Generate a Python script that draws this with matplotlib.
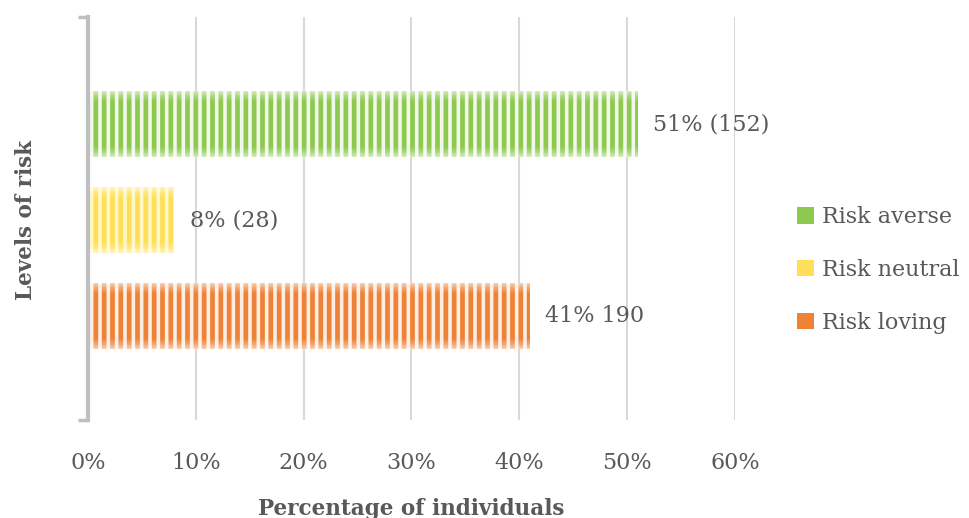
import matplotlib
matplotlib.use('Agg')
import numpy as np
import matplotlib.pyplot as plt
from matplotlib.patches import Patch

plt.rcParams['font.family'] = ['DejaVu Serif']
plt.rcParams['hatch.linewidth'] = 3.4
plt.rcParams['text.color'] = '#595959'

# data (bottom to top)
categories = ['Risk loving', 'Risk neutral', 'Risk averse']
percent = [41, 8, 51]
value_labels = ['41% 190', '8% (28)', '51% (152)']
stripe_colors = ['#EE8236', '#FFDF5A', '#8CC94E']
gap_colors = ['#FDEEE3', '#FFF8C4', '#F1F8EA']
x_ticks = [0, 10, 20, 30, 40, 50, 60]

fig = plt.figure(figsize=(9.7, 5.18), dpi=100)
ax = fig.add_axes([0.0907, 0.189, 0.667, 0.778])

bar_h = 0.68
ypos = list(range(len(categories)))
bars = ax.barh(ypos, percent, height=bar_h, zorder=3)
for bar, sc, gc in zip(bars, stripe_colors, gap_colors):
    bar.set_facecolor(gc)
    bar.set_edgecolor(sc)
    bar.set_linewidth(0)
    bar.set_hatch('||')

# soft fade along the top and bottom edges of each bar
t = np.linspace(0, 1, 60)
fade = np.clip(1 - np.minimum(t, 1 - t) / 0.18, 0, 1) ** 1.5 * 0.6
glow = np.ones((60, 1, 4))
glow[:, 0, 3] = fade
for y, v in zip(ypos, percent):
    ax.imshow(glow, extent=[0, v, y - bar_h / 2, y + bar_h / 2],
              aspect='auto', interpolation='bilinear', zorder=3.5)

for y, v, lab in zip(ypos, percent, value_labels):
    ax.annotate(lab, (v, y), xytext=(11, 0), textcoords='offset points',
                ha='left', va='center', fontsize=16, color='#595959')

ax.set_xlim(0, 60)
ax.set_ylim(-1.083, 3.115)
ax.set_xticks(x_ticks)
ax.set_xticklabels([f'{t}%' for t in x_ticks])
ax.set_yticks([-1.083, 3.115])
ax.set_yticklabels(['', ''])
ax.tick_params(axis='x', length=0, pad=23, labelsize=16, labelcolor='#595959')
ax.tick_params(axis='y', length=7, width=2.5, color='#BFBFBF', direction='out')

ax.grid(axis='x', color='#D9D9D9', linewidth=1.5, zorder=0)
ax.set_axisbelow(True)
for s in ['top', 'right', 'bottom']:
    ax.spines[s].set_visible(False)
ax.spines['left'].set_color('#BFBFBF')
ax.spines['left'].set_linewidth(3)
ax.spines['left'].set_zorder(4)

ax.set_xlabel('Percentage of individuals', fontsize=15.5, fontweight='bold',
              color='#595959', labelpad=17)
fig.text(0.027, 0.575, 'Levels of risk', rotation=90, fontsize=15.5,
         fontweight='bold', color='#595959', ha='center', va='center')

handles = [Patch(facecolor=gc, edgecolor=sc, linewidth=0, hatch='||||', label=c)
           for c, sc, gc in zip(categories, stripe_colors, gap_colors)][::-1]
fig.legend(handles=handles, loc='center left', bbox_to_anchor=(0.822, 0.479),
           frameon=False, fontsize=16, handlelength=0.75, handleheight=0.75,
           handletextpad=0.35, labelspacing=1.38, borderpad=0, borderaxespad=0,
           labelcolor='#595959')

fig.savefig('out.png', dpi=100)
